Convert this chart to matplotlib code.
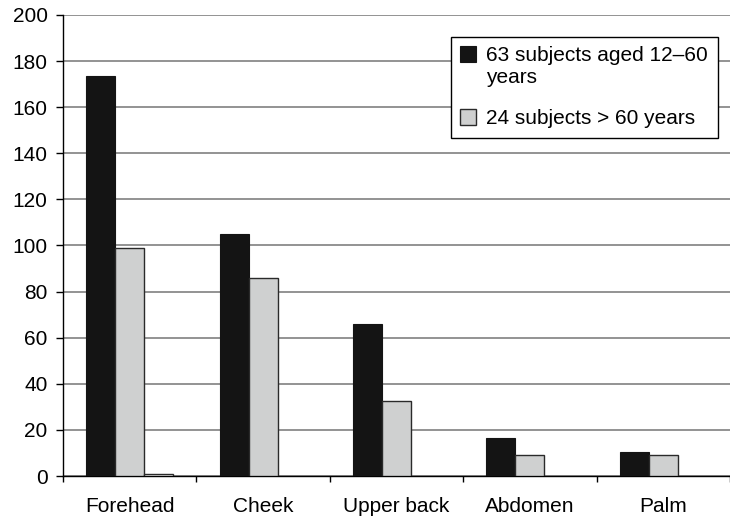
import numpy as np
import matplotlib.pyplot as plt

plt.rcParams['font.family'] = ['Liberation Sans', 'DejaVu Sans']

categories = ["Forehead", "Cheek", "Upper back", "Abdomen", "Palm"]
aged_12_60 = [173.5, 105, 66, 16.5, 10.5]
over_60 = [99, 86, 32.5, 9, 9]
third = [1, 0, 0, 0, 0]
labels = ["63 subjects aged 12\u201360\nyears", "24 subjects > 60 years"]

fig = plt.figure(figsize=(7.3, 5.17), dpi=100)
ax = fig.add_axes([63 / 730, 41 / 517, 667 / 730, 461 / 517])

x = np.arange(len(categories))
w = 0.217
b1 = ax.bar(x - w, aged_12_60, w, color="#141414", edgecolor="#141414", linewidth=0.8, label=labels[0], zorder=3)
b2 = ax.bar(x, over_60, w, color="#cfd0d0", edgecolor="#2a2a2a", linewidth=1.0, label=labels[1], zorder=3)
# small third series, only visible where non-zero
ax.bar(x + w, third, w, color="white", edgecolor="#2a2a2a",
       linewidth=[1.0 if v > 0 else 0 for v in third], zorder=3)

ax.set_ylim(0, 200)
ax.set_xlim(-0.5, len(categories) - 0.5)
ax.set_yticks(np.arange(0, 201, 20))
ax.yaxis.grid(True, color="#808080", linewidth=1.2, zorder=0)
ax.set_axisbelow(True)

ax.set_xticks(x)
ax.set_xticklabels(categories)
ax.set_xticks(np.arange(-0.5, len(categories), 1.0), minor=True)
ax.tick_params(axis="x", which="major", length=0, pad=15, labelsize=15)
ax.tick_params(axis="x", which="minor", length=4.5, width=1, direction="out")
ax.tick_params(axis="y", length=5, width=1, direction="out", labelsize=15, pad=6)

for s in ["top", "right"]:
    ax.spines[s].set_visible(False)
for s in ["left", "bottom"]:
    ax.spines[s].set_color("black")
    ax.spines[s].set_linewidth(1.0)

leg = ax.legend(handles=[b1, b2], loc="upper left", bbox_to_anchor=(451 / 730, 1 - 37 / 517),
                bbox_transform=fig.transFigure, fontsize=15, frameon=True, fancybox=False,
                framealpha=1, edgecolor="black", handlelength=0.75, handleheight=0.75,
                handletextpad=0.5, labelspacing=1.05, borderpad=0.45, borderaxespad=0)
leg.get_frame().set_linewidth(1.0)
leg.set_zorder(5)
# put the squares level with the first text line
for col in leg._legend_handle_box.get_children():
    for item in col.get_children():
        item.align = "top"

fig.savefig("out.png", dpi=100)
